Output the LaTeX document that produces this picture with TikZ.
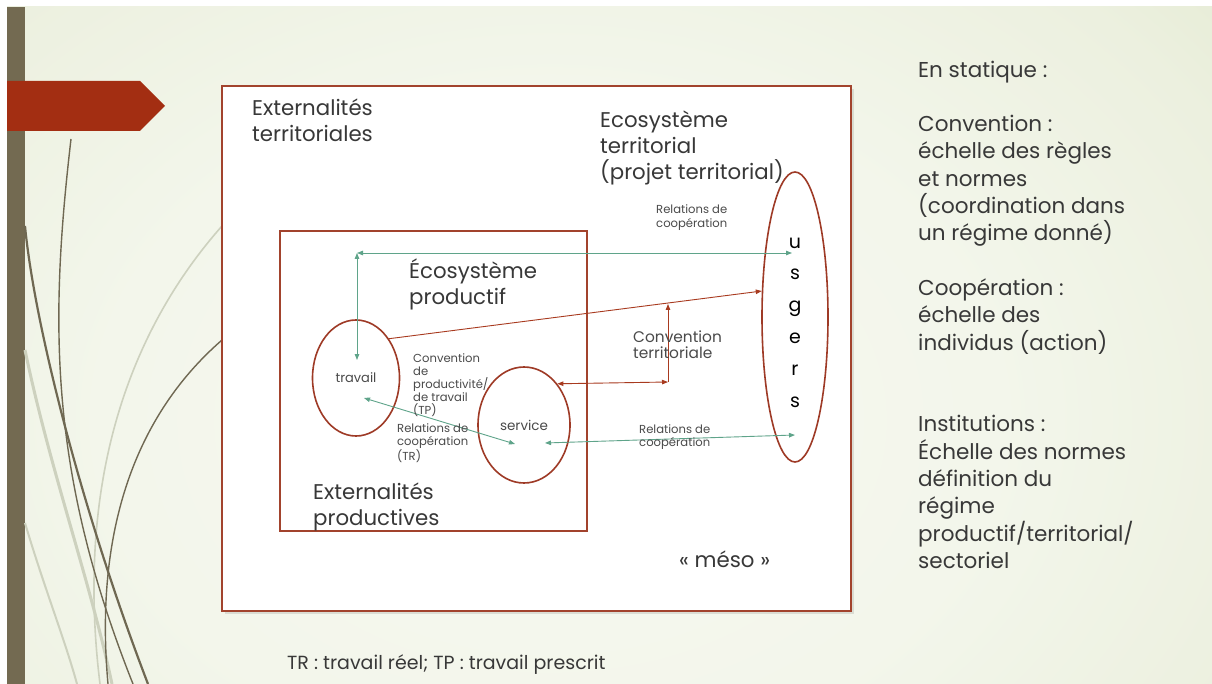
\documentclass[tikz,border=0pt]{standalone}
\usepackage{fontspec}
\setmainfont{Poppins}
\usetikzlibrary{arrows.meta,shapes.geometric}
\definecolor{bgM}{HTML}{F6F8F0}
\definecolor{bgN}{HTML}{F3F6EB}
\definecolor{bgA}{HTML}{ECF0DF}
\definecolor{bgB}{HTML}{E1E8CD}
\definecolor{bgR}{HTML}{DBE4C2}
\definecolor{barc}{HTML}{736A51}
\definecolor{bannerc}{HTML}{A32E12}
\definecolor{curvec}{HTML}{6F6852}
\definecolor{faintc}{HTML}{CDD1BE}
\definecolor{boxred}{HTML}{A2432D}
\definecolor{ovalred}{HTML}{9E3A26}
\definecolor{redarr}{HTML}{A83A1F}
\definecolor{tealg}{HTML}{5FA48A}
\definecolor{txtc}{HTML}{383838}
\definecolor{smallc}{HTML}{4A4A4A}
\pgfdeclareradialshading{bgshade}{\pgfpoint{0bp}{0bp}}{color(0bp)=(bgM); color(14bp)=(bgN); color(24bp)=(bgA); color(32bp)=(bgB); color(40bp)=(bgR); color(50bp)=(bgR)}
\tikzset{
  boxframe/.style={draw=boxred, line width=1.6pt},
  ovalnode/.style={ellipse, draw=ovalred, line width=1.6pt, inner sep=0pt, text=smallc},
  gboth/.style={draw=tealg, line width=0.9pt, arrows={Triangle[length=6pt,width=4.5pt]-Triangle[length=6pt,width=4.5pt]}},
  rboth/.style={draw=redarr, line width=0.9pt, arrows={Triangle[length=6pt,width=4.5pt]-Triangle[length=6pt,width=4.5pt]}},
  rone/.style={draw=redarr, line width=0.9pt, arrows={-Triangle[length=6pt,width=4.5pt]}},
  bigtxt/.style={font=\fontsize{21.3}{26}\selectfont, text=txtc, align=left, inner sep=0pt, anchor=base west},
  midtxt/.style={font=\fontsize{15.4}{17}\selectfont, text=smallc, align=left, inner sep=0pt, anchor=base west},
  smalltxt/.style={font=\fontsize{11.6}{13.2}\selectfont, text=smallc, align=left, inner sep=0pt, anchor=base west},
  righttxt/.style={font=\fontsize{21.5}{27.3}\selectfont, text=txtc, align=left, inner sep=0pt, anchor=base west},
  deco/.style={draw=curvec, line width=1.4pt},
  decofaint/.style={draw=faintc, line width=1.6pt}
}
\begin{document}
\begin{tikzpicture}[x=1pt,y=-1pt]
\useasboundingbox (0,0) rectangle (1212,684);
% background
\fill[white] (0,0) rectangle (1212,684);
\begin{scope}
  \clip (7,7) rectangle (1212,684);
  \shade[shading=bgshade] (-250,-180) rectangle (1350,1020);
\end{scope}
\fill[barc] (7,7) rectangle (25,684);
% decorative curves
\draw[decofaint] (222,226) .. controls (130,330) and (75,480) .. (100,684);
\draw[decofaint, line width=3pt] (25,350) .. controls (50,470) and (90,580) .. (112,684);
\draw[decofaint, line width=2pt] (25,523) .. controls (45,590) and (65,640) .. (77,684);
\draw[deco, line width=2.2pt] (25,226) .. controls (35,330) and (85,520) .. (148,684);
\draw[deco] (71,139) .. controls (50,320) and (48,470) .. (133,684);
\draw[deco] (222,340) .. controls (130,420) and (95,540) .. (108,684);
% banner
\fill[bannerc] (7,81) -- (140,81) -- (165,106) -- (140,131) -- (7,131) -- cycle;
% outer frame
\fill[black, opacity=0.10] (225,89) rectangle (854,614);
\node[boxframe, fill=white, minimum width=629pt, minimum height=525pt, inner sep=0pt] (outer) at (536.5,348.5) {};
\node[boxframe, minimum width=307pt, minimum height=300pt, inner sep=0pt] (inner) at (433.5,381) {};
% ellipses
\node[ovalnode, minimum width=87pt, minimum height=116pt, font=\fontsize{13}{15}\selectfont] (travail) at (356,378) {travail};
\node[ovalnode, minimum width=92pt, minimum height=116pt, font=\fontsize{13.5}{15}\selectfont] (service) at (524,425) {service};
\node[ovalnode, minimum width=66pt, minimum height=290pt] (usagers) at (795,317) {};
\node[font=\fontsize{19}{31.8}\selectfont, text=black, align=center, inner sep=0pt, anchor=base] (usgers) at (795,407) {u\\s\\g\\e\\r\\s};
% coordinates
\coordinate (gcorner) at (357,253);
\coordinate (gu1) at (792,253);
\coordinate (gt1) at (357,360);
\coordinate (gt2) at (364,398);
\coordinate (gs1) at (515,444);
\coordinate (gs2) at (545,443);
\coordinate (gu2) at (795,435);
\coordinate (rcorner) at (668,382);
\coordinate (rtop) at (668,304);
% connectors
\draw[gboth] (gcorner) -- (gu1);
\draw[gboth] (gcorner) -- (gt1);
\draw[gboth] (gt2) -- (gs1);
\draw[gboth] (gs2) -- (gu2);
\draw[rone] (travail.50) -- (usagers.142);
\draw[rboth] (service.51) -- (rcorner);
\draw[rone] (rcorner) -- (rtop);
% labels (anchored at the baseline of their last line)
\node[bigtxt] (extterr) at (252,142) {Externalités\\territoriales};
\node[bigtxt] (ecoterr) at (600,180) {Ecosystème\\territorial\\(projet territorial)};
\node[bigtxt] (ecoprod) at (409,305) {Écosystème\\productif};
\node[bigtxt] (extprod) at (313,525) {Externalités\\productives};
\node[bigtxt] (meso) at (679,567) {« méso »};
\node[midtxt] (convterr) at (633,359) {Convention\\territoriale};
\node[smalltxt] (relcoop1) at (656,227.2) {Relations de\\coopération};
\node[smalltxt] (convprod) at (413,414.8) {Convention\\de\\productivité/\\de travail\\(TP)};
\node[smalltxt] (relcoop2) at (397,460.4) {Relations de\\coopération\\(TR)};
\node[smalltxt] (relcoop3) at (639,446.2) {Relations de\\coopération};
\node[righttxt] (side) at (918,568.4) {En statique :\\\mbox{}\\Convention :\\échelle des règles\\et normes\\(coordination dans\\un régime donné)\\\mbox{}\\Coopération :\\échelle des\\individus (action)\\\mbox{}\\\mbox{}\\Institutions :\\Échelle des normes\\définition du\\régime\\productif/territorial/\\sectoriel};
\node[font=\fontsize{19}{26}\selectfont, text=txtc, inner sep=0pt, anchor=base west] (footer) at (287,669) {TR : travail réel; TP : travail prescrit};
\end{tikzpicture}
\end{document}
